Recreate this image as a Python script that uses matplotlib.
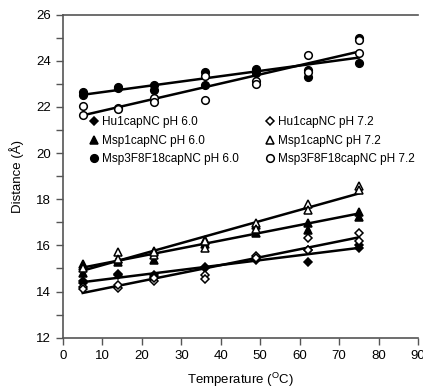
import numpy as np
import matplotlib
matplotlib.use("Agg")
import matplotlib.pyplot as plt
from matplotlib.ticker import MultipleLocator

plt.rcParams['font.family'] = ['Liberation Sans', 'DejaVu Sans']
plt.rcParams['mathtext.fontset'] = 'custom'
plt.rcParams['mathtext.rm'] = 'Liberation Sans'

temps = [5, 5, 14, 14, 23, 23, 36, 36, 49, 49, 62, 62, 75, 75]

hu1_ph60 = [14.45, 14.35, 14.7, 14.75, 14.7, 14.65, 15.05, 15.0, 15.35, 15.4, 15.8, 15.3, 15.9, 16.0]
hu1_ph72 = [14.2, 14.1, 14.15, 14.3, 14.45, 14.6, 14.7, 14.55, 15.55, 15.45, 16.3, 15.8, 16.55, 16.2]
msp1_ph60 = [15.2, 14.8, 15.4, 15.3, 15.75, 15.35, 16.25, 16.05, 16.9, 16.55, 16.95, 16.65, 17.45, 17.25]
msp1_ph72 = [15.1, 15.0, 15.7, 15.4, 15.6, 15.7, 15.9, 16.2, 16.95, 16.7, 17.8, 17.55, 18.55, 18.4]
msp3_ph60 = [22.65, 22.5, 22.85, 22.8, 22.95, 22.75, 23.5, 22.95, 23.65, 23.45, 23.6, 23.3, 25.0, 23.9]
msp3_ph72 = [22.05, 21.65, 21.95, 21.9, 22.4, 22.2, 23.35, 22.3, 23.1, 23.0, 24.25, 23.5, 24.9, 24.35]

series = [
    ("Hu1capNC pH 6.0", hu1_ph60, 'D', 'black'),
    ("Hu1capNC pH 7.2", hu1_ph72, 'D', 'white'),
    ("Msp1capNC pH 6.0", msp1_ph60, '^', 'black'),
    ("Msp1capNC pH 7.2", msp1_ph72, '^', 'white'),
    ("Msp3F8F18capNC pH 6.0", msp3_ph60, 'o', 'black'),
    ("Msp3F8F18capNC pH 7.2", msp3_ph72, 'o', 'white'),
]
sizes = {'D': 4.5, '^': 6.0, 'o': 5.5}

fig = plt.figure(figsize=(4.23, 3.9), dpi=100)
ax = fig.add_axes([63/423, 1-337.7/390, 355/423, 323.2/390])

t = np.array(temps, dtype=float)
handles = []
for label, vals, mk, fc in series:
    v = np.array(vals)
    h, = ax.plot(t, v, linestyle='none', marker=mk, markersize=sizes[mk],
                 markerfacecolor=fc, markeredgecolor='black', markeredgewidth=1.1,
                 label=label, zorder=3)
    handles.append(h)
    p = np.polyfit(t, v, 1)
    xs = np.array([t.min(), t.max()])
    ax.plot(xs, np.polyval(p, xs), color='black', linewidth=1.8, zorder=2)

ax.set_xlim(0, 90)
ax.set_ylim(12, 26)
ax.xaxis.set_major_locator(MultipleLocator(10))
ax.yaxis.set_major_locator(MultipleLocator(2))
ax.yaxis.set_minor_locator(MultipleLocator(1))
ax.tick_params(axis='both', which='major', direction='out', length=5, width=1,
               color='#555555', labelsize=9.5)
ax.tick_params(axis='y', which='minor', direction='out', length=5, width=1, color='#555555')
ax.spines['right'].set_visible(False)
for s in ['left', 'bottom', 'top']:
    ax.spines[s].set_color('#555555')
    ax.spines[s].set_linewidth(1.2)

ax.set_xlabel(r'Temperature ($^{\mathrm{O}}$C)', fontsize=9.5, labelpad=7)
ax.set_ylabel('Distance (Å)', fontsize=9.5, labelpad=9)

order = [0, 2, 4, 1, 3, 5]
leg = ax.legend([handles[i] for i in order], [series[i][0] for i in order],
                ncol=2, frameon=False, fontsize=8.5, loc='upper left',
                bbox_to_anchor=(0.06, 0.70), handlelength=0.8, handletextpad=0.3,
                columnspacing=2.2, labelspacing=0.55, borderaxespad=0)

fig.savefig('out.png', dpi=100)
